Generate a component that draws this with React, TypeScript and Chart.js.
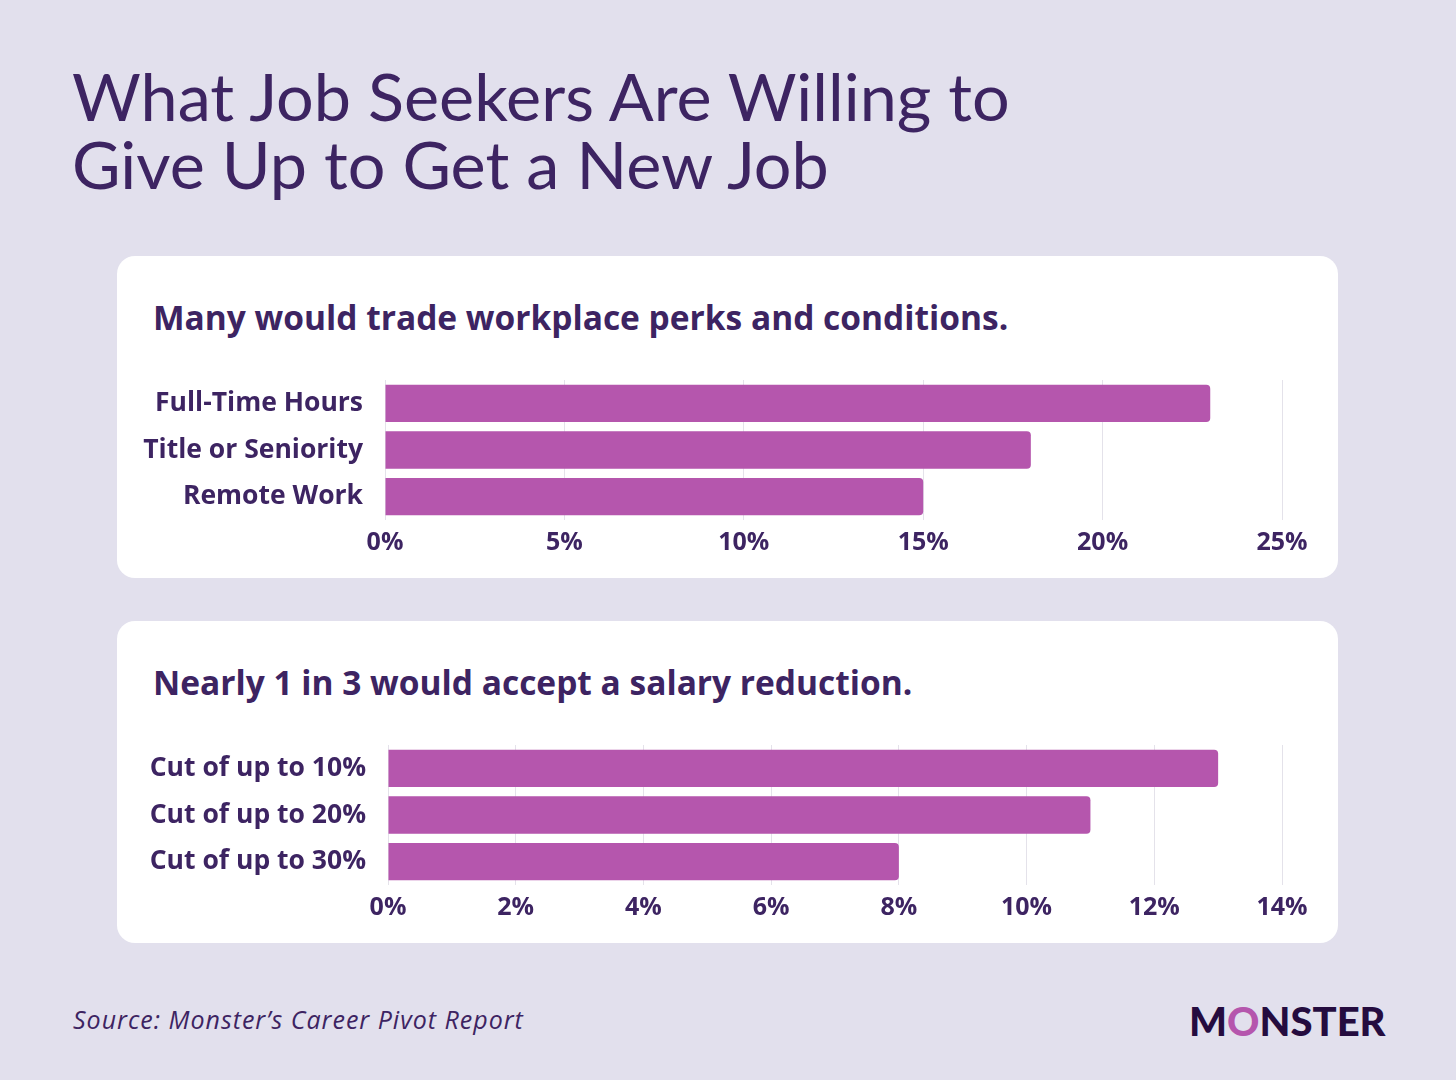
import React, { useEffect, useRef } from "react";
import { Chart, registerables } from "chart.js";

Chart.register(...registerables);

const perksCategories = ["Full-Time Hours", "Title or Seniority", "Remote Work"];
const perksValues = [23, 18, 15];
const perksMax = 25;
const perksStep = 5;

const salaryCategories = ["Cut of up to 10%", "Cut of up to 20%", "Cut of up to 30%"];
const salaryValues = [13, 11, 8];
const salaryMax = 14;
const salaryStep = 2;

const titleLines = ["What Job Seekers Are Willing to", "Give Up to Get a New Job"];
const perksHeading = "Many would trade workplace perks and conditions.";
const salaryHeading = "Nearly 1 in 3 would accept a salary reduction.";
const sourceText = "Source: Monster\u2019s Career Pivot Report";

const DARK = "#3d2462";
const BAR = "#b556ad";
const GRID = "#e4e2ea";
const BG = "#e2e0ed";
const FONT = "Lato, 'Noto Sans', sans-serif";
const BOLD_FONT = "'Open Sans', 'Noto Sans', sans-serif";

type BarProps = {
  labels: string[];
  values: number[];
  max: number;
  step: number;
  yWidth: number;
};

function BarChart({ labels, values, max, step, yWidth }: BarProps) {
  const ref = useRef<HTMLCanvasElement | null>(null);
  useEffect(() => {
    if (!ref.current) return;
    const chart = new Chart(ref.current, {
      type: "bar",
      data: {
        labels,
        datasets: [
          {
            data: values,
            backgroundColor: BAR,
            borderRadius: 4,
            borderSkipped: "start",
            barPercentage: 0.8,
            categoryPercentage: 1,
          },
        ],
      },
      options: {
        indexAxis: "y",
        animation: false,
        responsive: false,
        maintainAspectRatio: false,
        layout: { padding: { top: 14, right: 56, left: 0, bottom: 0 } },
        plugins: { legend: { display: false }, tooltip: { enabled: false } },
        scales: {
          x: {
            min: 0,
            max,
            ticks: {
              stepSize: step,
              padding: 8,
              color: DARK,
              font: { family: BOLD_FONT, size: 25, weight: "bold" },
              callback: (v: any) => v + "%",
            },
            grid: { color: GRID, lineWidth: 1, drawTicks: false },
            border: { display: false },
            afterFit: (s: any) => {
              s.height = 46;
              s.paddingLeft = 0;
              s.paddingRight = 0;
            },
          },
          y: {
            ticks: {
              padding: 22,
              color: DARK,
              font: { family: BOLD_FONT, size: 26.5, weight: "bold" },
            },
            grid: { display: false, drawTicks: false },
            border: { display: false },
            afterFit: (s: any) => {
              s.width = yWidth;
              s.paddingTop = 0;
              s.paddingBottom = 0;
            },
          },
        },
      },
    });
    return () => chart.destroy();
  }, []);
  return (
    <canvas
      ref={ref}
      width={1221}
      height={200}
      style={{ position: "absolute", left: 0, top: 110, width: 1221, height: 200 }}
    />
  );
}

function Card({ top, heading, children }: { top: number; heading: string; children: any }) {
  return (
    <div
      style={{
        position: "absolute",
        left: 117,
        top,
        width: 1221,
        height: 322,
        background: "#ffffff",
        borderRadius: 18,
      }}
    >
      <div
        style={{
          position: "absolute",
          left: 36,
          top: 38,
          fontFamily: BOLD_FONT,
          fontWeight: 700,
          fontSize: 33.5,
          color: DARK,
          whiteSpace: "nowrap",
        }}
      >
        {heading}
      </div>
      {children}
    </div>
  );
}

export default function App() {
  return (
    <div
      style={{
        position: "fixed",
        left: 0,
        top: 0,
        width: 1456,
        height: 1080,
        background: BG,
        overflow: "hidden",
      }}
    >
      <div
        style={{
          position: "absolute",
          left: 72,
          top: 61,
          fontFamily: FONT,
          fontWeight: 400,
          fontSize: 66.5,
          lineHeight: "68px",
          color: DARK,
          whiteSpace: "nowrap",
        }}
      >
        {titleLines.map((l) => (
          <div key={l}>{l}</div>
        ))}
      </div>
      <Card top={256} heading={perksHeading}>
        <BarChart labels={perksCategories} values={perksValues} max={perksMax} step={perksStep} yWidth={268} />
      </Card>
      <Card top={621} heading={salaryHeading}>
        <BarChart labels={salaryCategories} values={salaryValues} max={salaryMax} step={salaryStep} yWidth={271} />
      </Card>
      <div
        style={{
          position: "absolute",
          left: 73,
          top: 1002,
          fontFamily: BOLD_FONT,
          fontStyle: "italic",
          fontSize: 25,
          letterSpacing: 1,
          color: DARK,
          whiteSpace: "nowrap",
        }}
      >
        {sourceText}
      </div>
      <div
        style={{
          position: "absolute",
          left: 1189,
          top: 997,
          fontFamily: FONT,
          fontWeight: 900,
          fontSize: 40,
          letterSpacing: 0,
          color: "#250c3f",
          whiteSpace: "nowrap",
        }}
      >
        M<span style={{ color: BAR }}>O</span>NSTER
      </div>
    </div>
  );
}
